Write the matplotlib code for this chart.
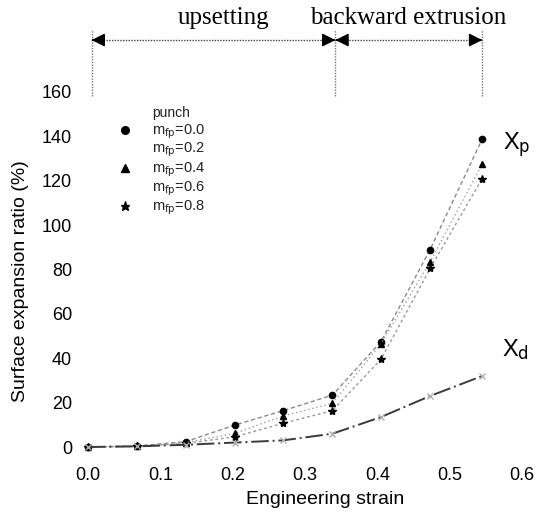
import numpy as np
import matplotlib.pyplot as plt

plt.rcParams['font.family'] = ['Liberation Sans', 'DejaVu Sans']
plt.rcParams['mathtext.default'] = 'regular'

# =========================
# DATA
# =========================
strain = [0.0, 0.068, 0.135, 0.203, 0.270, 0.338, 0.405, 0.473, 0.545]

# surface expansion at punch side, Xp (%)
xp_m00 = [0.0, 0.5, 2.4, 9.9, 16.4, 23.4, 47.5, 89.0, 138.8]
xp_m04 = [0.0, 0.4, 2.0, 6.2, 14.0, 19.7, 46.5, 83.5, 127.5]
xp_m08 = [0.0, 0.3, 1.6, 4.6, 10.7, 16.4, 39.5, 80.5, 121.0]

# surface expansion at die side, Xd (%)
xd_vals = [0.0, 0.3, 1.0, 2.0, 3.0, 6.0, 13.5, 23.0, 32.0]

legend_labels = ['0.0', '0.2', '0.4', '0.6', '0.8']
legend_markers = ['o', None, '^', None, '*']

stage_bounds = [0.005, 0.342, 0.545]
stage_names = ['upsetting', 'backward extrusion']

# =========================
# FIGURE
# =========================
fig = plt.figure(figsize=(5.42, 5.26), dpi=100)
ax = fig.add_axes([0.1557, 0.1333, 0.8141, 0.7003])
ax.set_xlim(-0.005, 0.605)
ax.set_ylim(-4, 162)

for s in ax.spines.values():
    s.set_visible(False)

ax.set_xticks([0.0, 0.1, 0.2, 0.3, 0.4, 0.5, 0.6])
ax.set_xticklabels(['0.0', '0.1', '0.2', '0.3', '0.4', '0.5', '0.6'])
ax.set_yticks(range(0, 161, 20))
ax.tick_params(length=0, labelsize=13)
ax.tick_params(axis='x', pad=8)
ax.tick_params(axis='y', pad=9)

# Xp curves
ax.plot(strain, xp_m00, color='#8a8a8a', lw=1.0, ls=(0, (3, 2)), marker='o', ms=4.5,
        mfc='black', mec='black', clip_on=False)
ax.plot(strain, xp_m04, color='#a0a0a0', lw=1.0, ls=(0, (1, 2)), marker='^', ms=5,
        mfc='black', mec='black', clip_on=False)
ax.plot(strain, xp_m08, color='#999999', lw=1.0, ls=(0, (2, 2)), marker='*', ms=6,
        mfc='black', mec='black', clip_on=False)

# Xd curve
ax.plot(strain, xd_vals, color='#3a3a3a', lw=1.4, ls=(0, (9, 2, 1, 2)),
        marker='x', ms=4, mec='#b0b0b0', clip_on=False)

# curve labels
ax.text(0.574, 136, 'X$_{\\rm p}$', fontsize=17, va='center', ha='left')
ax.text(0.572, 44, 'X$_{\\rm d}$', fontsize=17, va='center', ha='left')

# legend (hand placed, as in the original)
ax.text(0.0885, 150.5, 'punch', fontsize=10, va='center', ha='left', color='#222222')
row_y = [142, 133.8, 124.8, 116.3, 107.7]
for lab, mk, yy in zip(legend_labels, legend_markers, row_y):
    ax.text(0.0885, yy, 'm$_{\\rm fp}$=' + lab, fontsize=10.5, va='center', ha='left',
            color='#222222')
    if mk is not None:
        ax.plot([0.051], [yy + 1], marker=mk, color='black', ms=5.5 if mk != '*' else 6.5,
                ls='None')

# stage header: vertical guides, arrows and names
for xb in stage_bounds:
    ax.plot([xb, xb], [158, 188], color='#777777', lw=1.0, ls=(0, (1, 1)), clip_on=False)

arrow_y = 183.4
for x0, x1 in zip(stage_bounds[:-1], stage_bounds[1:]):
    ax.plot([x0, x1], [arrow_y, arrow_y], color='#444444', lw=1.0, ls=(0, (1, 1)),
            clip_on=False)
    ax.annotate('', xy=(x1, arrow_y), xytext=(x1 - 0.002, arrow_y), annotation_clip=False,
                arrowprops=dict(arrowstyle='-|>', color='black', lw=1.0,
                                mutation_scale=20, shrinkA=0, shrinkB=0))
    ax.annotate('', xy=(x0, arrow_y), xytext=(x0 + 0.002, arrow_y), annotation_clip=False,
                arrowprops=dict(arrowstyle='-|>', color='black', lw=1.0,
                                mutation_scale=20, shrinkA=0, shrinkB=0))

ax.text(0.187, 188.3, stage_names[0], family=['Liberation Serif'], fontsize=18,
        ha='center', va='bottom')
ax.text(0.442, 188.3, stage_names[1], family=['Liberation Serif'], fontsize=18,
        ha='center', va='bottom')

fig.text(0.60, 0.05, 'Engineering strain', fontsize=14, ha='center', va='center')
fig.text(0.037, 0.466, 'Surface expansion ratio (%)', fontsize=14, ha='center',
         va='center', rotation=90)

fig.savefig('out.png', dpi=100)
